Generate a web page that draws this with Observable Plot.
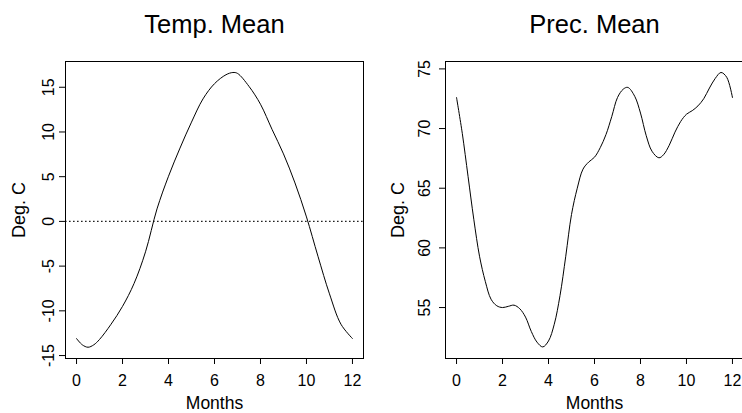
<!DOCTYPE html>
<html><head><meta charset="utf-8">
<script src="https://cdn.jsdelivr.net/npm/d3@7"></script>
<script src="https://cdn.jsdelivr.net/npm/@observablehq/plot@0.6"></script>
<style>
html,body{margin:0;padding:0;background:#fff;}
#wrap{position:relative;width:742px;height:413px;overflow:hidden;background:#fff;}
#wrap svg{position:absolute;top:0;}
</style></head><body><div id="wrap"></div>
<script>
// ---- data ----
const tempMonths = [0,0.25,0.5,0.75,1,1.5,2,2.5,3,3.5,4,4.5,5,5.5,6,6.5,6.8,7,7.5,8,8.5,9,9.5,10,10.5,11,11.5,12];
const tempMean   = [-13.1,-13.8,-14.07,-13.8,-13.2,-11.5,-9.5,-6.95,-3.4,1.4,5.05,8.2,11.1,13.7,15.4,16.4,16.65,16.55,15.1,13.1,10.3,7.55,4.3,0.5,-3.9,-8.1,-11.5,-13.1];
const precMonths = [0,0.25,0.5,0.75,1,1.25,1.5,1.75,2,2.25,2.5,2.75,3,3.25,3.5,3.75,4,4.25,4.5,4.75,5,5.25,5.5,5.75,6,6.25,6.5,6.75,7,7.25,7.45,7.75,8,8.25,8.5,8.8,9,9.25,9.5,9.75,10,10.25,10.5,10.75,11,11.25,11.5,11.75,12];
const precMean   = [72.6,69.6,66.0,62.4,59.3,57.2,55.7,55.15,55.0,55.1,55.2,54.9,54.2,53.0,52.1,51.7,52.2,53.6,56.0,59.3,62.8,65.0,66.6,67.2,67.6,68.4,69.5,71.0,72.6,73.3,73.45,72.7,71.3,69.4,68.1,67.55,67.8,68.6,69.7,70.6,71.2,71.5,71.9,72.5,73.4,74.2,74.7,74.3,72.6];
const xTicks    = [0,2,4,6,8,10,12];
const tempTicks = [-15,-10,-5,0,5,10,15];
const precTicks = [55,60,65,70,75];
const titles = ["Temp. Mean", "Prec. Mean"];
const xLabel = "Months";
const yLabel = "Deg. C";
const refLine = [0];

const tempData = tempMonths.map((m, i) => ({m, v: tempMean[i]}));
const precData = precMonths.map((m, i) => ({m, v: precMean[i]}));

const FONT = "'Liberation Sans', Arial, Helvetica, sans-serif";

function panel({data, yDomain, yTicks, title, width, marginLeft, marginRight, rule, ylabDx, ytickDx}) {
  return Plot.plot({
    width, height: 413, marginLeft, marginRight, marginTop: 61, marginBottom: 55,
    style: {fontFamily: FONT, background: "transparent", color: "#000", overflow: "visible"},
    x: {domain: [-0.48, 12.48]},
    y: {domain: yDomain},
    marks: [
      rule ? Plot.ruleY(rule, {stroke: "#222", strokeDasharray: "1.6,2.4", strokeWidth: 1.1}) : null,
      Plot.line(data, {x: "m", y: "v", curve: "catmull-rom", stroke: "#000", strokeWidth: 1}),
      Plot.frame({stroke: "#000", strokeWidth: 1}),
      Plot.axisX(xTicks, {anchor: "bottom", tickSize: 6, tickPadding: 10, fontSize: 16, label: null}),
      Plot.axisY(yTicks, {anchor: "left", tickSize: 6, tickFormat: () => "", label: null}),
      Plot.text(yTicks, {y: d => d, text: d => String(d), frameAnchor: "left", rotate: -90, dx: ytickDx,
                         fontSize: 16, textAnchor: "middle", lineAnchor: "middle"}),
      Plot.text([yLabel], {text: d => d, frameAnchor: "left", rotate: -90, dx: ylabDx,
                           fontSize: 18, textAnchor: "middle", lineAnchor: "middle"}),
      Plot.text([xLabel], {text: d => d, frameAnchor: "bottom", dy: 38.5, lineAnchor: "top", fontSize: 17.5}),
      Plot.text([title], {text: d => d, frameAnchor: "top", dy: -47, lineAnchor: "top", fontSize: 25.5})
    ]
  });
}

const wrap = document.getElementById("wrap");
const left = panel({data: tempData, yDomain: [-15.33, 17.88], yTicks: tempTicks, title: titles[0],
  width: 371, marginLeft: 65, marginRight: 8, rule: refLine, ylabDx: -46.7, ytickDx: -17});
left.style.left = "0px";
wrap.appendChild(left);
const right = panel({data: precData, yDomain: [50.73, 75.62], yTicks: precTicks, title: titles[1],
  width: 380, marginLeft: 74, marginRight: 8, rule: null, ylabDx: -47.5, ytickDx: -21});
right.style.left = "371px";
wrap.appendChild(right);
</script>
</body></html>
